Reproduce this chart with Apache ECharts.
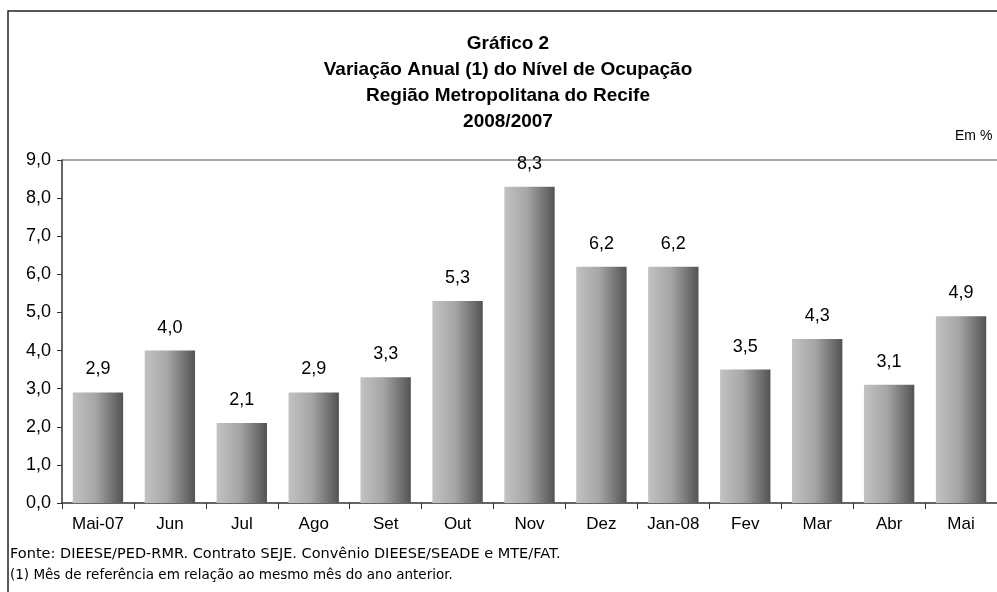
<!DOCTYPE html>
<html><head><meta charset="utf-8">
<script src="https://cdn.jsdelivr.net/npm/echarts@6/dist/echarts.min.js"></script>
<style>html,body{margin:0;padding:0;background:#fff}#c{width:997px;height:592px}</style>
</head><body><div id="c"></div>
<script>
var categories = ["Mai-07","Jun","Jul","Ago","Set","Out","Nov","Dez","Jan-08","Fev","Mar","Abr","Mai"];
var values = [2.9,4.0,2.1,2.9,3.3,5.3,8.3,6.2,6.2,3.5,4.3,3.1,4.9];
var titleLines = ["Gráfico 2","Variação Anual (1) do Nível de Ocupação","Região Metropolitana do Recife","2008/2007"];
var yMin = 0, yMax = 9, yStep = 1;

var chart = echarts.init(document.getElementById('c'));
var fmt = function(v){ return v.toFixed(1).replace('.', ','); };
var FONT = '"Liberation Sans", Arial';
var titleGraphics = titleLines.map(function(t, i){
  return {type:'text', x:508, y:34 + i*26, style:{text:t, font:'bold 19px "Liberation Sans", Arial', fill:'#000', textAlign:'center', textVerticalAlign:'top'}, z:10};
});
chart.setOption({
  animation:false,
  grid:{left:62, right:0, top:160, bottom:89},
  xAxis:{type:'category', data:categories,
    axisLine:{lineStyle:{color:'#333', width:1.5}},
    axisTick:{show:true, length:6, lineStyle:{color:'#333'}},
    axisLabel:{color:'#000', fontFamily:FONT, fontSize:17, margin:13}},
  yAxis:{type:'value', min:yMin, max:yMax, interval:yStep,
    axisLine:{show:true, lineStyle:{color:'#333', width:1.5}},
    axisTick:{show:true, length:5, lineStyle:{color:'#333'}},
    splitLine:{show:false},
    axisLabel:{color:'#000', fontFamily:FONT, fontSize:18, margin:11, formatter:fmt}},
  series:[{type:'bar', data:values, barCategoryGap:'30%',
    itemStyle:{color:new echarts.graphic.LinearGradient(0,0,1,0,[
      {offset:0,color:'#c2c2c2'},{offset:0.45,color:'#a6a6a6'},{offset:1,color:'#535353'}])},
    label:{show:true, position:'top', distance:14, color:'#000', fontFamily:FONT, fontSize:18,
      formatter:function(p){return fmt(p.value);}}
  }],
  graphic:[
    {type:'rect', shape:{x:8, y:11, width:1000, height:600}, style:{fill:'none', stroke:'#222', lineWidth:1.5}},
    {type:'line', shape:{x1:62, y1:160, x2:997, y2:160}, style:{stroke:'#888', lineWidth:1.5}},
    {type:'text', x:955, y:129, style:{text:'Em %', font:'14px "Liberation Sans", Arial', fill:'#000', textVerticalAlign:'top'}},
    {type:'text', x:10, y:547, style:{text:'Fonte: DIEESE/PED-RMR. Contrato SEJE. Convênio DIEESE/SEADE e MTE/FAT.', font:'14.5px "DejaVu Sans", Arial', fill:'#000', textVerticalAlign:'top'}},
    {type:'text', x:10, y:568, style:{text:'(1) Mês de referência em relação ao mesmo mês do ano anterior.', font:'13.5px "DejaVu Sans", Arial', fill:'#000', textVerticalAlign:'top'}}
  ].concat(titleGraphics)
});
</script></body></html>
